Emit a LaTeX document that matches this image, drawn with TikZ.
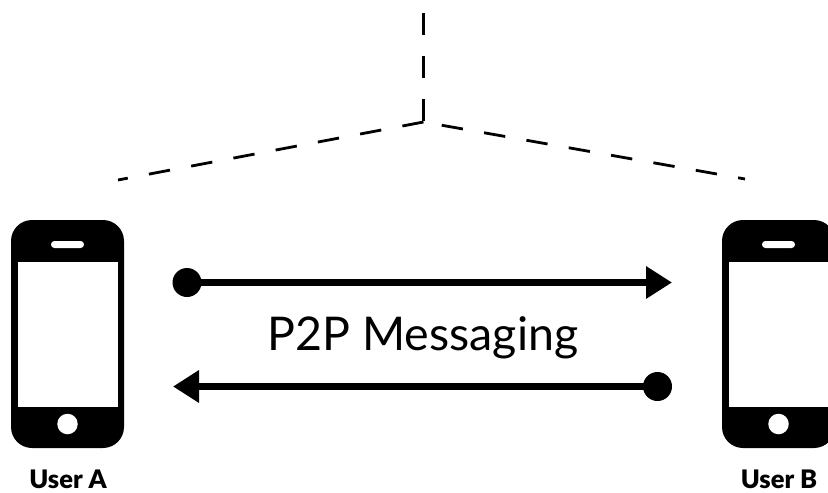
\documentclass[tikz,border=0pt]{standalone}
\usepackage{fontspec}
\setmainfont{Lato}
\newfontfamily\heavyfont{Lato Black}
\usetikzlibrary{arrows.meta}
\tikzset{
  x=1pt,y=-1pt,
  body/.style={fill=black,draw=none,rounded corners=21pt,minimum width=113pt,minimum height=228pt,inner sep=0pt,outer sep=0pt},
  screen/.style={fill=white,draw=none,minimum width=100pt,minimum height=145pt,inner sep=0pt},
  speaker/.style={fill=white,draw=none,rounded corners=3.4pt,minimum width=33pt,minimum height=7pt,inner sep=0pt},
  homekey/.style={circle,fill=white,draw=none,minimum size=20.5pt,inner sep=0pt},
  dotend/.style={circle,fill=black,draw=none,minimum size=29pt,inner sep=0pt,outer sep=0pt},
  tipend/.style={inner sep=0pt,outer sep=0pt,minimum size=0pt},
  msg/.style={line width=7pt,-{Triangle[length=26pt,width=31pt]},shorten >=0pt},
  dashline/.style={line width=2.8pt,dash pattern=on 21.5pt off 21.5pt},
  userlabel/.style={font=\fontsize{25.5}{29}\heavyfont,inner sep=0pt},
}
\begin{document}
\begin{tikzpicture}
\useasboundingbox (0,0) rectangle (828,493);
\clip (0,0) rectangle (828,493);
% phones
\node[body] (phoneA) at (67.5,334) {};
\node[screen] (screenA) at (67.5,334.5) {};
\node[speaker] (speakerA) at (67.5,244.5) {};
\node[homekey] (homeA) at (67.5,424) {};
\node[body] (phoneB) at (778.5,334) {};
\node[screen] (screenB) at (778.5,334.5) {};
\node[speaker] (speakerB) at (778.5,244.5) {};
\node[homekey] (homeB) at (778.5,424) {};
% connectors
\node[dotend] (dotA) at (187,282.5) {};
\node[tipend] (tipB) at (672,282.5) {};
\node[dotend] (dotB) at (657.5,386.5) {};
\node[tipend] (tipA) at (173,386.5) {};
\draw[msg] (dotA.center) -- (tipB);
\draw[msg] (dotB.center) -- (tipA);
% dashed
\coordinate (top) at (423.5,13);
\coordinate (apex) at (423.5,122);
\coordinate (left) at (118,180);
\coordinate (right) at (745,179);
\draw[dashline] (top) -- (apex);
\draw[dashline] (apex) -- (left);
\draw[dashline,dash phase=24.5pt] (apex) -- (right);
% labels
\node[font=\fontsize{46.5}{54}\selectfont] (title) at (423,337.5) {P2P Messaging};
\node[userlabel] (labelA) at (68,479.5) {User A};
\node[userlabel] (labelB) at (779,479.5) {User B};
\end{tikzpicture}
\end{document}
